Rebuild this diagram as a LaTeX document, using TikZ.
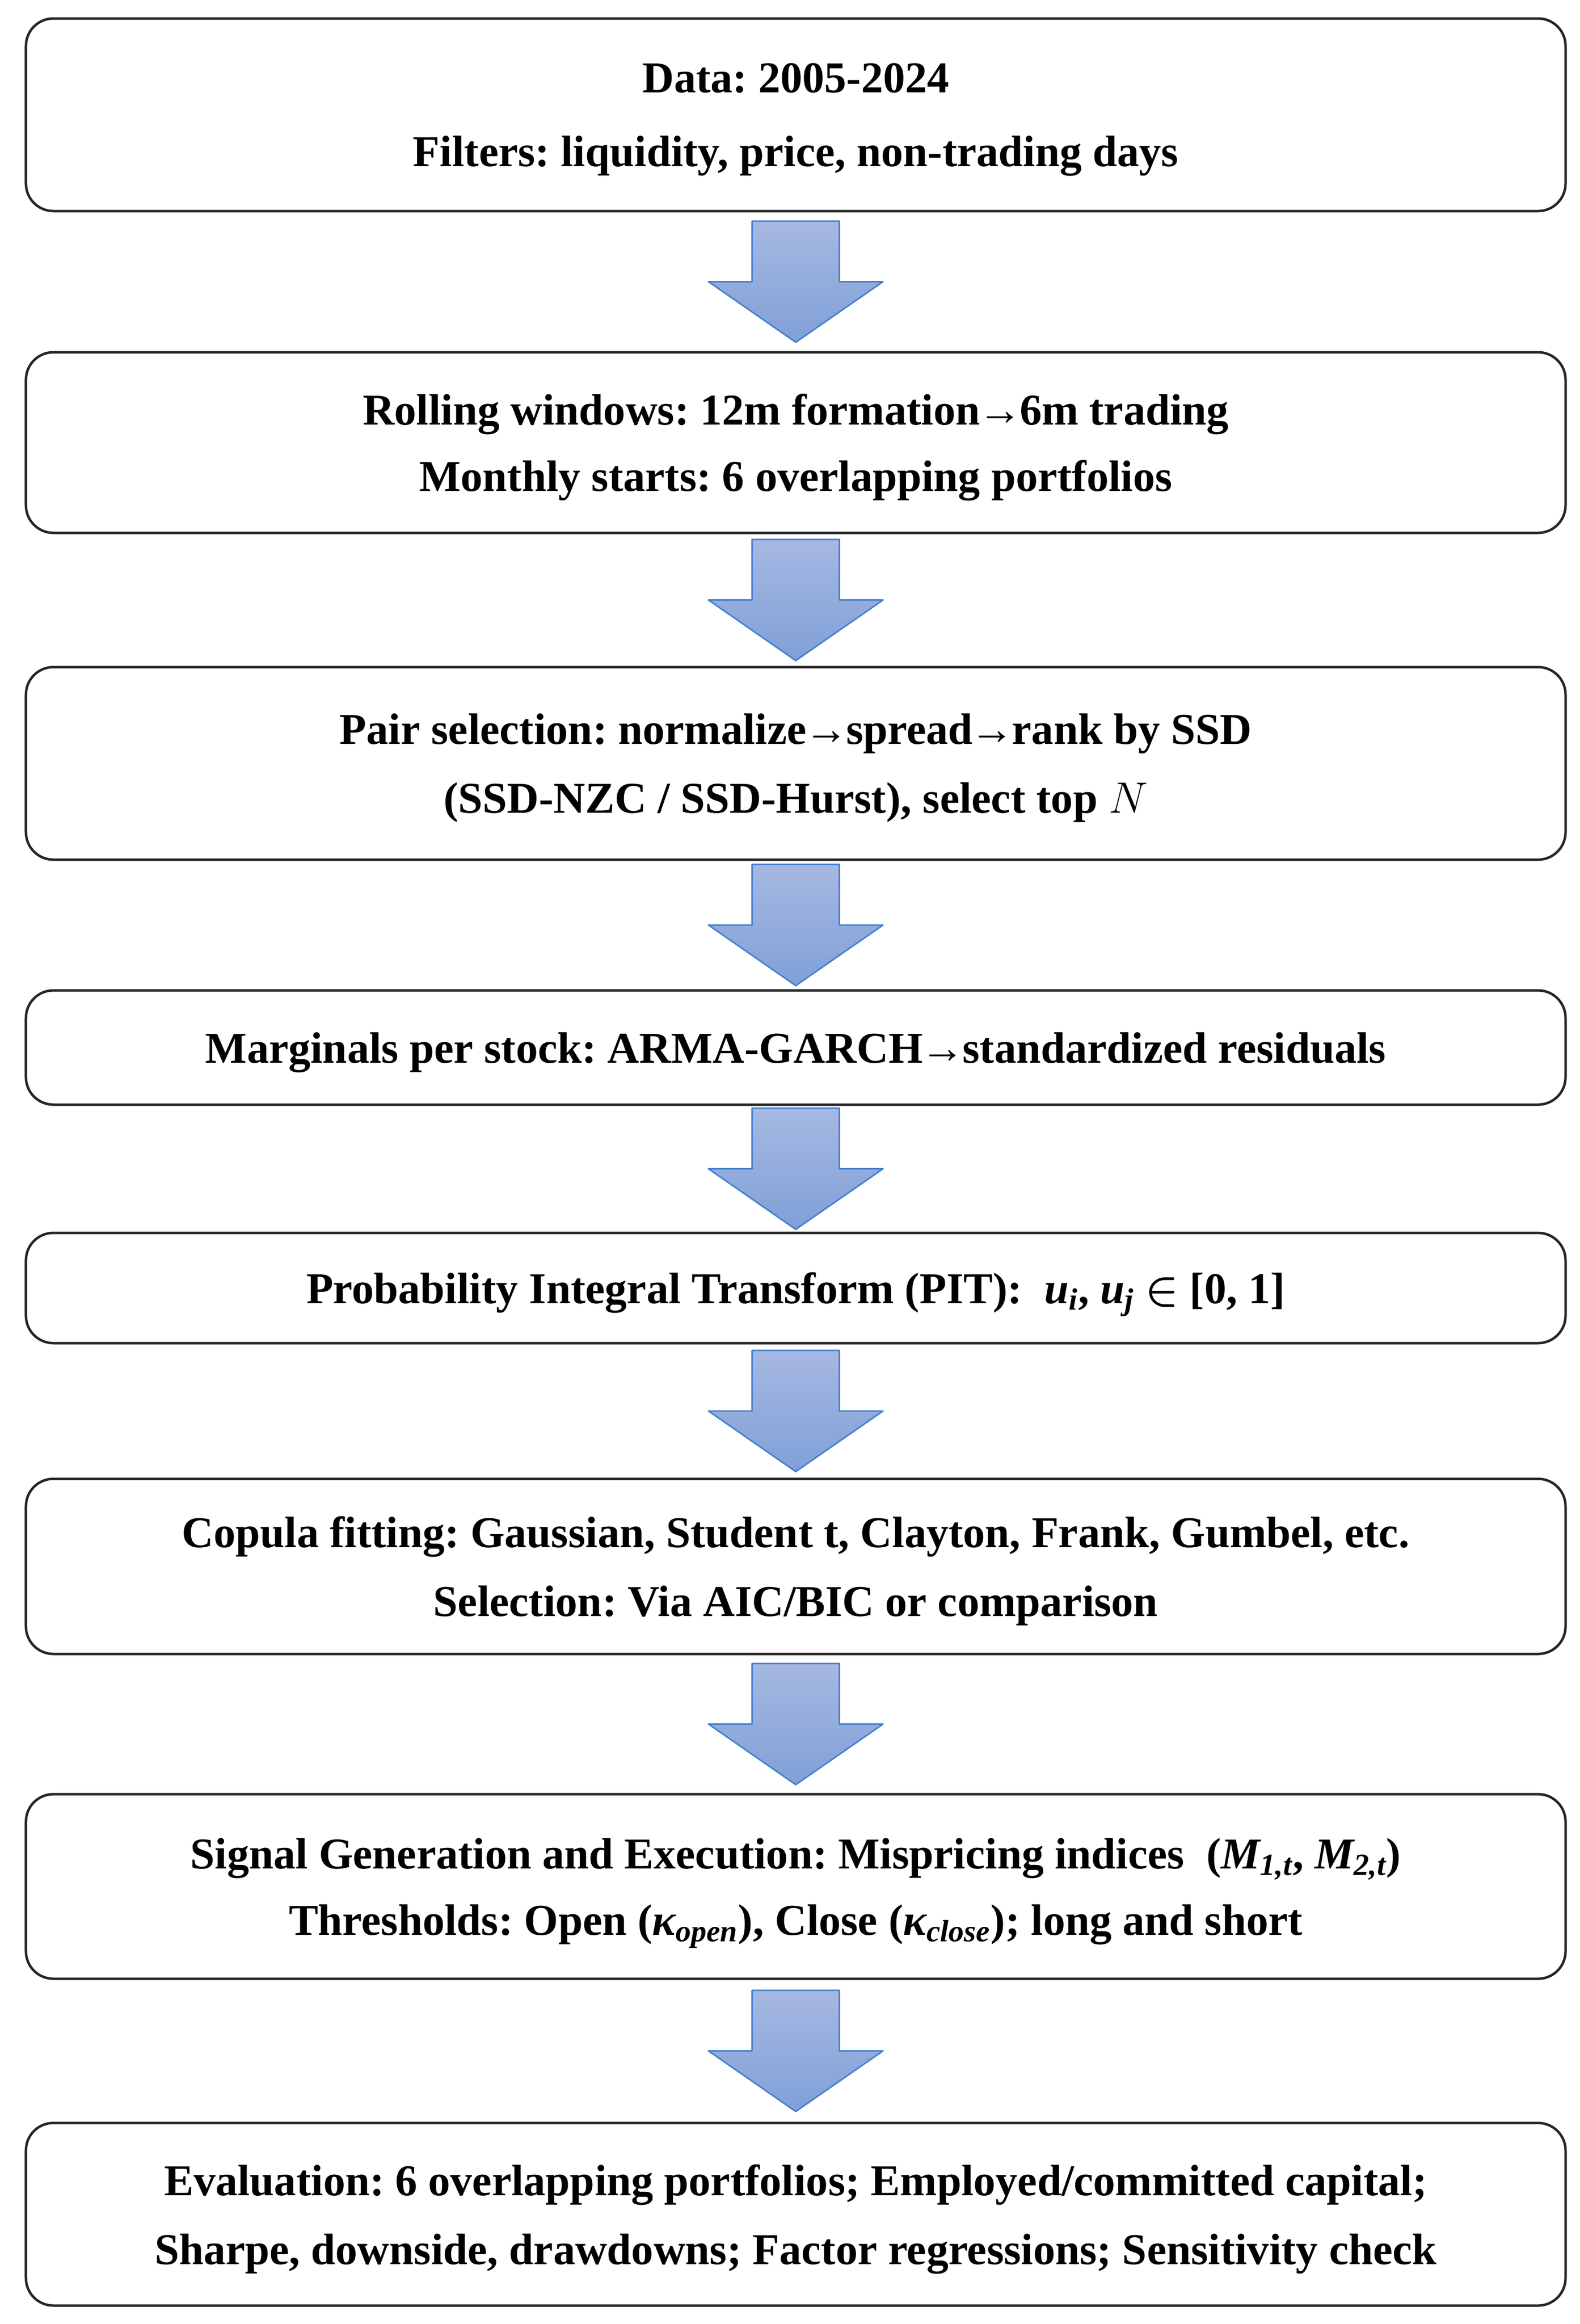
\documentclass[tikz,border=0pt]{standalone}
\usepackage{fix-cm}
\usepackage{fontspec}
\setmainfont{Liberation Serif}
\usetikzlibrary{calc}
\frenchspacing
\definecolor{arrowfilltop}{RGB}{166,184,226}
\definecolor{arrowfillbot}{RGB}{128,160,216}
\definecolor{arrowline}{RGB}{68,128,208}
\definecolor{boxline}{RGB}{38,38,38}
\newcommand{\ar}{\kern-0.05em→\kern-0.05em}
\newcommand{\vr}[2]{{\itshape #1\textsubscript{#2}}}
\tikzset{
  stepbox/.style={draw=boxline, line width=0.05cm, rounded corners=0.55cm,
    minimum width=30.86cm, align=center, inner sep=0pt, text depth=0pt,
    font=\fontsize{25.1}{39.3}\selectfont\bfseries},
  flowarrow/.pic={
    \path[top color=arrowfilltop, bottom color=arrowfillbot, draw=arrowline,
      line width=0.03cm, line join=round]
      (-0.875,1.215) -- (0.875,1.215) -- (0.875,0) -- (1.75,0) --
      (0,-1.215) -- (-1.75,0) -- (-0.875,0) -- cycle;}
}
\begin{document}
\begin{tikzpicture}
\useasboundingbox[fill=white] (0,0) rectangle (31.67,-46.58);

\node[stepbox, minimum height=3.86cm] (b1) at (15.95,-2.30)
  {Data: 2005-2024\\[0.1cm]Filters: liquidity, price, non-trading days};
\node[stepbox, minimum height=3.62cm] (b2) at (15.95,-8.87)
  {Rolling windows: 12m formation\ar 6m trading\\[-0.05cm]Monthly starts: 6 overlapping portfolios};
\node[stepbox, minimum height=3.86cm] (b3) at (15.95,-15.30)
  {Pair selection: normalize\ar spread\ar rank by SSD\\(SSD-NZC / SSD-Hurst), select top $N$};
\node[stepbox, minimum height=2.29cm] (b4) at (15.95,-20.995)
  {Marginals per stock: ARMA-GARCH\ar standardized residuals};
\node[stepbox, minimum height=2.21cm] (b5) at (15.95,-25.815)
  {Probability Integral Transform (PIT):\ \ \vr{u}{i}, \vr{u}{j} {\boldmath$\in$} [0, 1]};
\node[stepbox, minimum height=3.51cm, text depth=-0.2cm] (b6) at (15.95,-31.395)
  {Copula fitting: Gaussian, Student t, Clayton, Frank, Gumbel, etc.\\Selection: Via AIC/BIC or comparison};
\node[stepbox, minimum height=3.70cm] (b7) at (15.95,-37.81)
  {Signal Generation and Execution: Mispricing indices\ \ (\vr{M}{1,t}, \vr{M}{2,t})\\[-0.05cm]Thresholds: Open (\vr{κ}{open}), Close (\vr{κ}{close}); long and short};
\node[stepbox, minimum height=3.66cm] (b8) at (15.95,-44.38)
  {Evaluation: 6 overlapping portfolios; Employed/committed capital;\\Sharpe, downside, drawdowns; Factor regressions; Sensitivity check};

\foreach \u/\l [count=\i] in {b1/b2,b2/b3,b3/b4,b4/b5,b5/b6,b6/b7,b7/b8}{
  \coordinate (a\i) at ($(\u.south)!0.5!(\l.north)$);
  \pic at (a\i) {flowarrow};
}
\end{tikzpicture}
\end{document}
